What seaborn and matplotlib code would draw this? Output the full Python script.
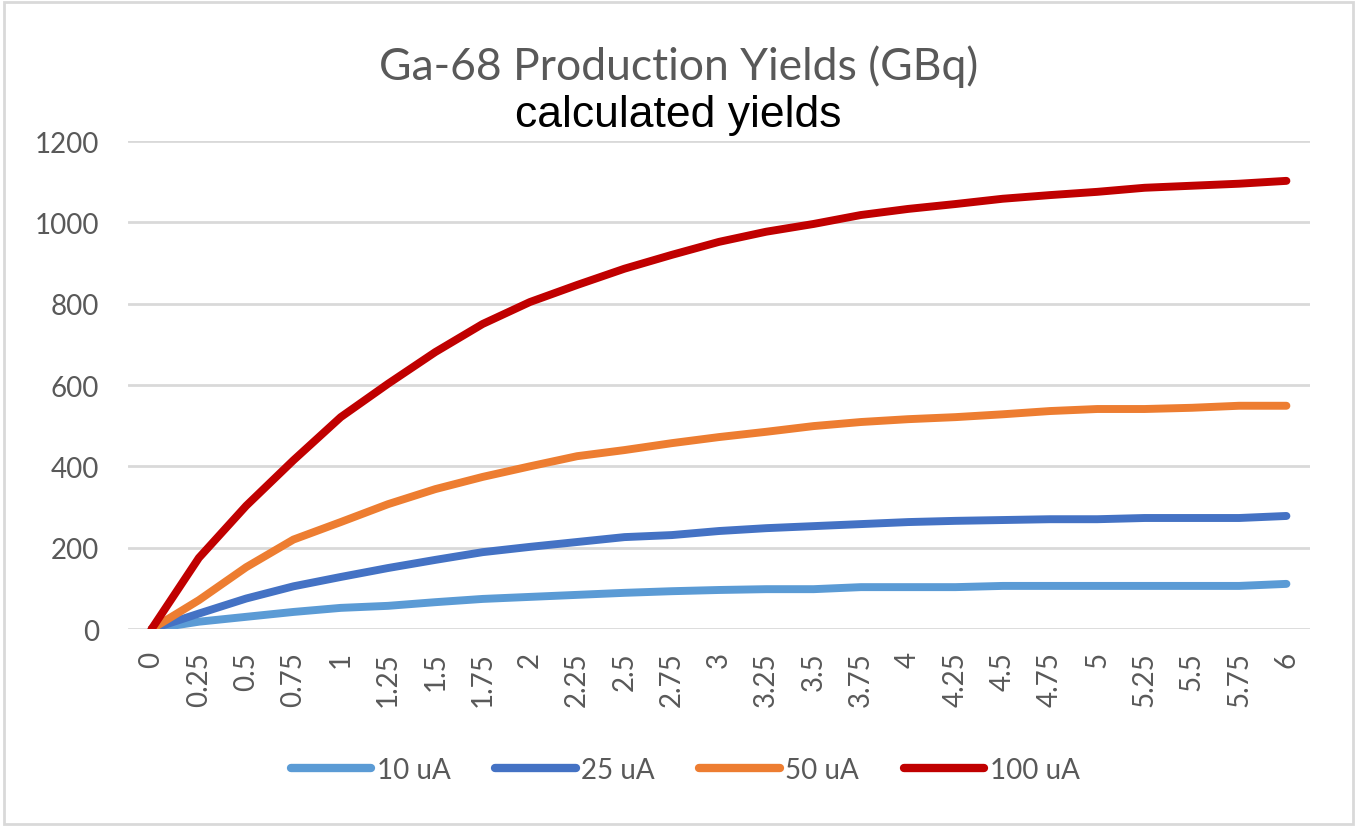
import numpy as np
import pandas as pd
import seaborn as sns
import matplotlib.pyplot as plt
from matplotlib.patches import Rectangle

# irradiation time (h)
hours = [0, 0.25, 0.5, 0.75, 1, 1.25, 1.5, 1.75, 2, 2.25, 2.5, 2.75, 3,
         3.25, 3.5, 3.75, 4, 4.25, 4.5, 4.75, 5, 5.25, 5.5, 5.75, 6]
hour_labels = ["0", "0.25", "0.5", "0.75", "1", "1.25", "1.5", "1.75", "2",
               "2.25", "2.5", "2.75", "3", "3.25", "3.5", "3.75", "4", "4.25",
               "4.5", "4.75", "5", "5.25", "5.5", "5.75", "6"]

# yields (GBq) per beam current
y_10ua = [0, 18, 30, 42, 52, 57, 66, 74, 79, 84, 89, 93, 96, 98, 98, 103,
          103, 103, 106, 106, 106, 106, 106, 106, 111]
y_25ua = [0, 38, 75, 105, 128, 150, 170, 189, 202, 214, 226, 231, 241, 248,
          253, 258, 263, 266, 268, 270, 270, 273, 273, 273, 278]
y_50ua = [0, 71, 152, 220, 263, 307, 344, 374, 400, 425, 440, 457, 472, 485,
          499, 509, 516, 521, 528, 536, 541, 541, 544, 549, 549]
y_100ua = [0, 175, 303, 415, 521, 603, 681, 750, 804, 846, 886, 920, 952, 977,
           996, 1018, 1033, 1045, 1058, 1067, 1075, 1085, 1090, 1095, 1102]

series = ["10 uA", "25 uA", "50 uA", "100 uA"]
colors = ["#5B9BD5", "#4472C4", "#ED7D31", "#C00000"]

df = pd.DataFrame({
    "Hours": hours * 4,
    "Yield": y_10ua + y_25ua + y_50ua + y_100ua,
    "Current": [s for s in series for _ in hours],
})

sns.set_style("white")
plt.rcParams["font.family"] = ["Lato", "DejaVu Sans"]
grey = "#595959"

fig = plt.figure(figsize=(13.57, 8.28), dpi=100)
ax = fig.add_axes([0.0943, 0.2391, 0.8711, 0.5894])

sns.lineplot(data=df, x="Hours", y="Yield", hue="Current", hue_order=series,
             palette=colors, linewidth=5.7, ax=ax, legend=True,
             solid_capstyle="round", solid_joinstyle="round")

ax.set_xlim(-0.125, 6.125)
ax.set_ylim(0, 1200)
ax.set_yticks(np.arange(0, 1201, 200))
ax.set_xticks(hours)
ax.set_xticklabels(hour_labels, rotation=90)
ax.tick_params(axis="both", labelsize=20, colors=grey, length=0)
ax.tick_params(axis="y", pad=21)
ax.tick_params(axis="x", pad=16)
ax.set_xlabel("")
ax.set_ylabel("")
ax.grid(axis="y", color="#D9D9D9", linewidth=2)
ax.set_axisbelow(True)
for s in ax.spines.values():
    s.set_visible(False)

handles, labels = ax.get_legend_handles_labels()
ax.get_legend().remove()
for h in handles:
    h.set_solid_capstyle("round")
    h.set_linewidth(6)
fig.legend(handles, labels, loc="center", bbox_to_anchor=(0.505, 0.069),
           ncol=4, frameon=False, fontsize=20, labelcolor=grey,
           handlelength=2.9, handletextpad=0.2, columnspacing=1.6)

fig.text(0.5, 0.919, "Ga-68 Production Yields (GBq)", ha="center",
         va="center", fontsize=32, color=grey)
fig.text(0.5, 0.861, "calculated yields", ha="center", va="center",
         fontsize=32, color="black", family="Liberation Sans")

fig.add_artist(Rectangle((0.003, 0.004), 0.994, 0.992, transform=fig.transFigure,
                         fill=False, edgecolor="#D9D9D9", linewidth=2))

fig.savefig("out.png", dpi=100)
